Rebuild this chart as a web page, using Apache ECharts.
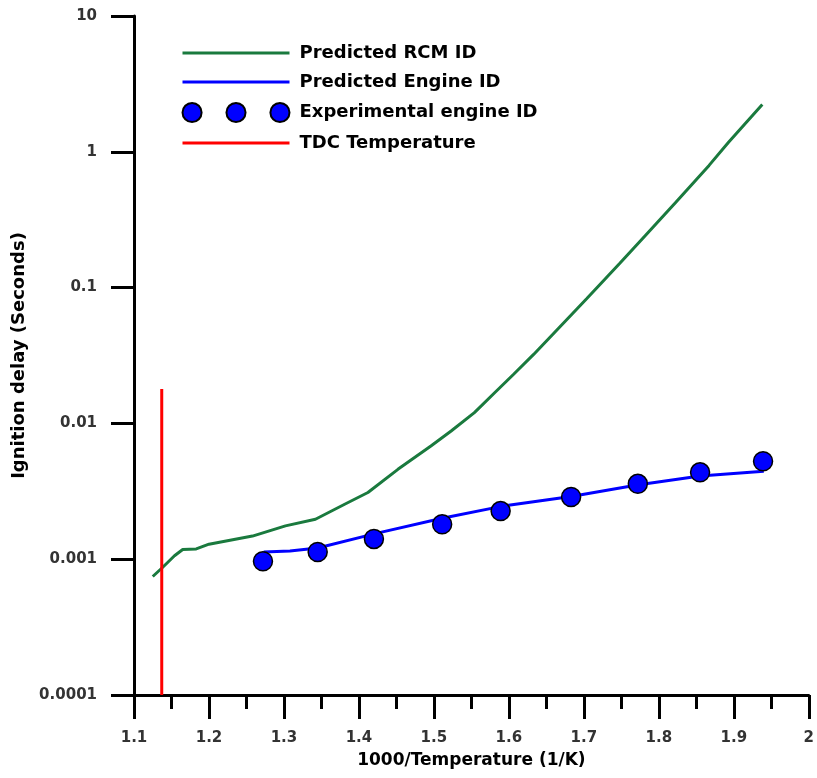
<!DOCTYPE html>
<html>
<head>
<meta charset="utf-8">
<script src="https://cdn.jsdelivr.net/npm/echarts@6/dist/echarts.min.js"></script>
<style>html,body{margin:0;padding:0;background:#fff;}#c{width:817px;height:778px;}</style>
</head>
<body>
<div id="c"></div>
<script>
// ---- data ----
const rcmX = [1.125, 1.138, 1.154, 1.165, 1.183, 1.200, 1.258, 1.302, 1.342, 1.381, 1.412, 1.452, 1.496, 1.523, 1.554, 1.580, 1.606, 1.633, 1.704, 1.748, 1.783, 1.823, 1.867, 1.893, 1.938];
const rcmY = [0.000746, 0.000869, 0.00106, 0.00118, 0.00119, 0.00129, 0.00148, 0.00176, 0.00197, 0.00254, 0.0031, 0.00459, 0.00682, 0.00879, 0.0120, 0.0166, 0.0229, 0.0322, 0.0832, 0.151, 0.245, 0.427, 0.794, 1.175, 2.23];
const engX = [1.273, 1.308, 1.345, 1.423, 1.511, 1.590, 1.683, 1.771, 1.855, 1.940];
const engY = [0.00113, 0.00115, 0.00121, 0.00155, 0.00200, 0.00245, 0.00290, 0.00352, 0.00410, 0.00445];
const expX = [1.272, 1.345, 1.420, 1.511, 1.589, 1.683, 1.772, 1.855, 1.939];
const expY = [0.000966, 0.00113, 0.00141, 0.00181, 0.00226, 0.00287, 0.00359, 0.00436, 0.00526];
const tdcX = [1.137, 1.137];
const tdcY = [0.0001, 0.0179];
const seriesNames = ['Predicted RCM ID', 'Predicted Engine ID', 'Experimental engine ID', 'TDC Temperature'];
const xTickLabels = ['1.1','1.2','1.3','1.4','1.5','1.6','1.7','1.8','1.9','2'];
const yTickLabels = ['0.0001','0.001','0.01','0.1','1','10'];
const xTitle = '1000/Temperature (1/K)';
const yTitle = 'Ignition delay (Seconds)';

const zip = (xs, ys) => xs.map((x, i) => [x, ys[i]]);
const FONT = 'DejaVu Sans';
const dotsIcon = 'path://M0,10a10,10 0 1,0 20,0a10,10 0 1,0 -20,0Z M46,10a10,10 0 1,0 20,0a10,10 0 1,0 -20,0Z M92,10a10,10 0 1,0 20,0a10,10 0 1,0 -20,0Z';

const chart = echarts.init(document.getElementById('c'), null, {renderer: 'canvas'});
chart.setOption({
  animation: false,
  backgroundColor: '#ffffff',
  grid: {left: 134, right: 3, top: 16, bottom: 83, containLabel: false},
  legend: {
    orient: 'vertical', left: 176, top: 39,
    itemWidth: 107, itemHeight: 20, itemGap: 11,
    selectedMode: false,
    textStyle: {fontFamily: FONT, fontWeight: 'bold', fontSize: 18, color: '#000', padding: [0, 0, 0, 5]},
    data: [
      {name: seriesNames[0], itemStyle: {opacity: 0}, lineStyle: {width: 3, color: '#1a7a3e'}},
      {name: seriesNames[1], itemStyle: {opacity: 0}, lineStyle: {width: 3, color: '#0000ff'}},
      {name: seriesNames[2], icon: dotsIcon},
      {name: seriesNames[3], itemStyle: {opacity: 0}, lineStyle: {width: 3, color: '#ff0000'}}
    ]
  },
  xAxis: {
    type: 'value', min: 1.1, max: 2.0, interval: 0.1,
    name: xTitle, nameLocation: 'middle', nameGap: 57,
    nameTextStyle: {fontFamily: FONT, fontWeight: 'bold', fontSize: 17, color: '#000'},
    splitLine: {show: false},
    axisLine: {show: true, onZero: false, lineStyle: {color: '#000', width: 3}},
    axisTick: {show: true, length: 24, lineStyle: {color: '#000', width: 3}},
    minorTick: {show: true, splitNumber: 2, length: 14, lineStyle: {color: '#000', width: 3}},
    axisLabel: {
      margin: 36, fontFamily: FONT, fontWeight: 'bold', fontSize: 15, color: '#333',
      formatter: v => xTickLabels[Math.round((v - 1.1) * 10)]
    }
  },
  yAxis: {
    type: 'log', logBase: 10, min: 0.0001, max: 10,
    name: yTitle, nameLocation: 'middle', nameGap: 100,
    nameTextStyle: {fontFamily: FONT, fontWeight: 'bold', fontSize: 18, color: '#000'},
    splitLine: {show: false},
    axisLine: {show: true, onZero: false, lineStyle: {color: '#000', width: 3}},
    axisTick: {show: true, length: 23, lineStyle: {color: '#000', width: 3}},
    minorTick: {show: false},
    axisLabel: {
      margin: 37, fontFamily: FONT, fontWeight: 'bold', fontSize: 15, color: '#333',
      formatter: v => yTickLabels[Math.round(Math.log10(v)) + 4]
    }
  },
  series: [
    {name: seriesNames[0], type: 'line', data: zip(rcmX, rcmY), symbol: 'none', smooth: false,
     lineStyle: {color: '#1a7a3e', width: 3}, itemStyle: {color: '#1a7a3e'}, z: 3},
    {name: seriesNames[1], type: 'line', data: zip(engX, engY), symbol: 'none',
     lineStyle: {color: '#0000ff', width: 3}, itemStyle: {color: '#0000ff'}, z: 3},
    {name: seriesNames[2], type: 'scatter', data: zip(expX, expY), symbol: 'circle', symbolSize: 19,
     itemStyle: {color: '#0000ff', borderColor: '#000', borderWidth: 1.5, opacity: 1}, z: 4},
    {name: seriesNames[3], type: 'line', data: zip(tdcX, tdcY), symbol: 'none',
     lineStyle: {color: '#ff0000', width: 3}, itemStyle: {color: '#ff0000'}, z: 5}
  ]
});
</script>
</body>
</html>
